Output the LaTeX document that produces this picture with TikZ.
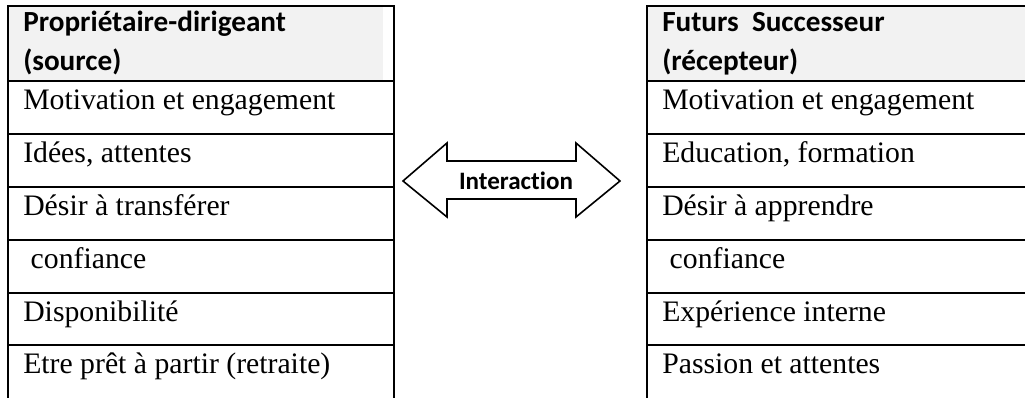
\documentclass[tikz,border=0pt]{standalone}
\usepackage{fontspec}
\setmainfont{Liberation Serif}
\newfontfamily\hdfont{Carlito}[Ligatures={NoCommon,NoRare,NoContextual}]
\definecolor{headgray}{HTML}{F2F2F2}
\begin{document}
\begin{tikzpicture}[x=0.75pt,y=-0.75pt,
  rule/.style={line width=1.5pt},
  cell/.style={anchor=base west,inner sep=0pt,font=\fontsize{22.3}{26}\selectfont},
  head/.style={anchor=base west,inner sep=0pt,font=\hdfont\bfseries\fontsize{21.9}{26}\selectfont},
  arrowshape/.style={line width=1.2pt,fill=white}]
\useasboundingbox (0,0) rectangle (1025,398);
% header fills
\fill[headgray] (8,6) rectangle (383,81);
\fill[headgray] (647,6) rectangle (1025,81);
% table frames
\draw[rule] (8,398) -- (8,6) -- (394,6) -- (394,398);
\draw[rule] (647,398) -- (647,6) -- (1026,6);
\foreach \yy in {81,134,187,240,293,345}{
  \draw[rule] (8,\yy) -- (394,\yy);
  \draw[rule] (647,\yy) -- (1026,\yy);
}
% left table
\node[head] (lh1) at (23,32) {Propriétaire-dirigeant};
\node[head] (lh2) at (23,71) {(source)};
\node[cell] (l1) at (23,110) {Motivation et engagement};
\node[cell] (l2) at (23,163) {Idées, attentes};
\node[cell] (l3) at (23,216) {Désir à transférer};
\node[cell] (l4) at (23,269) {\ confiance};
\node[cell] (l5) at (23,322) {Disponibilité};
\node[cell] (l6) at (23,374) {Etre prêt à partir (retraite)};
% right table
\node[head] (rh1) at (662,32) {Futurs\ \ Successeur};
\node[head] (rh2) at (662,71) {(récepteur)};
\node[cell] (r1) at (662,110) {Motivation et engagement};
\node[cell] (r2) at (662,163) {Education, formation};
\node[cell] (r3) at (662,216) {Désir à apprendre};
\node[cell] (r4) at (662,269) {\ confiance};
\node[cell] (r5) at (662,322) {Expérience interne};
\node[cell] (r6) at (662,374) {Passion et attentes};
% double arrow
\draw[arrowshape] (403,181) -- (447,143) -- (447,161) -- (576,161) -- (576,143)
  -- (620,181) -- (576,217) -- (576,199) -- (447,199) -- (447,217) -- cycle;
\node[inner sep=0pt,font=\hdfont\bfseries\fontsize{18.8}{22}\selectfont] (inter) at (516,181) {Interaction};
\end{tikzpicture}
\end{document}
